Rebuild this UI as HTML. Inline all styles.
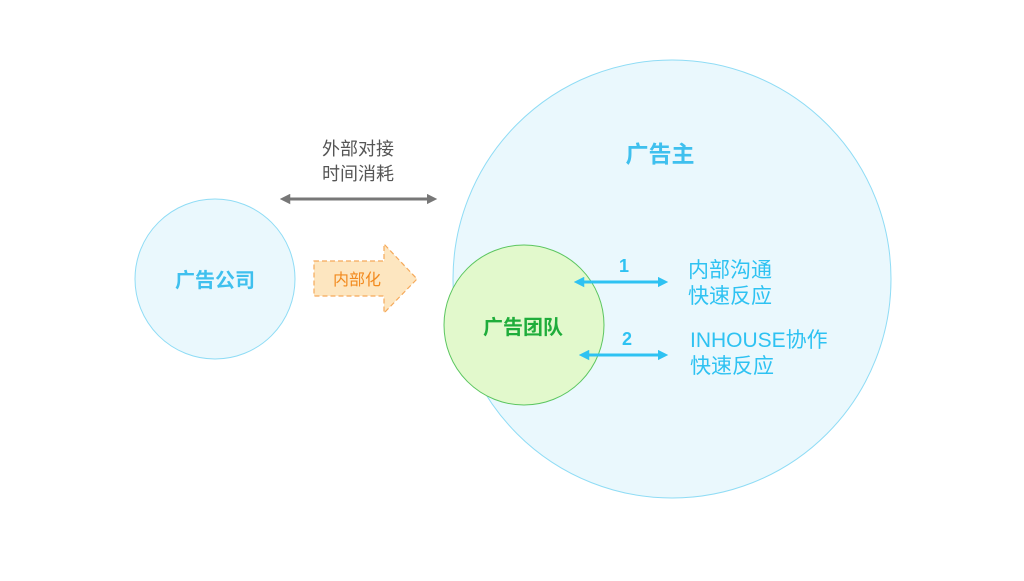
<!DOCTYPE html>
<html><head><meta charset="utf-8"><style>
body{margin:0;background:#fff}
svg text{font-family:"Liberation Sans","Noto Sans CJK SC",sans-serif}
</style></head><body>
<svg width="1024" height="576" xmlns="http://www.w3.org/2000/svg">
<defs>
<marker id="g" viewBox="0 0 10 10" refX="5" refY="5" markerWidth="3.5" markerHeight="3.5" orient="auto-start-reverse"><path d="M0 0L10 5L0 10z" fill="#777"/></marker>
<marker id="b" viewBox="0 0 10 10" refX="5" refY="5" markerWidth="3.5" markerHeight="3.5" orient="auto-start-reverse"><path d="M0 0L10 5L0 10z" fill="#2ec2f2"/></marker>
</defs>
<circle cx="672" cy="279" r="219" fill="#eaf8fd" stroke="#8fdcf5" stroke-width="1"/>
<circle cx="215" cy="279" r="80" fill="#eaf8fd" stroke="#8fdcf5" stroke-width="1"/>
<circle cx="524" cy="325" r="80" fill="#e2f9cc" stroke="#5cc660" stroke-width="1"/>
<text x="215" y="287" font-size="20" font-weight="bold" fill="#3fc0ee" text-anchor="middle">广告公司</text>
<text x="660" y="162" font-size="23" font-weight="bold" fill="#3fc0ee" text-anchor="middle">广告主</text>
<text x="523" y="334" font-size="20" font-weight="bold" fill="#1fad3b" text-anchor="middle">广告团队</text>
<text x="358" y="155" font-size="18" fill="#555" text-anchor="middle">外部对接</text>
<text x="358" y="180" font-size="18" fill="#555" text-anchor="middle">时间消耗</text>
<line x1="285" y1="199" x2="432" y2="199" stroke="#777" stroke-width="3" marker-start="url(#g)" marker-end="url(#g)"/>
<path d="M314 261H384V244L417 279L384 313V296H314Z" fill="#fde6c0" stroke="#f5a95a" stroke-width="1.2" stroke-dasharray="5,3"/>
<text x="357" y="285" font-size="16" fill="#f28a1e" text-anchor="middle">内部化</text>
<line x1="579" y1="282" x2="663" y2="282" stroke="#2ec2f2" stroke-width="3" marker-start="url(#b)" marker-end="url(#b)"/>
<line x1="584" y1="355" x2="663" y2="355" stroke="#2ec2f2" stroke-width="3" marker-start="url(#b)" marker-end="url(#b)"/>
<text x="624" y="272" font-size="18" font-weight="bold" fill="#2ec2f2" text-anchor="middle">1</text>
<text x="627" y="345" font-size="18" font-weight="bold" fill="#2ec2f2" text-anchor="middle">2</text>
<g font-size="21" fill="#2ec2f2">
<text x="688" y="277">内部沟通</text>
<text x="688" y="303">快速反应</text>
<text x="690" y="347">INHOUSE协作</text>
<text x="690" y="373">快速反应</text>
</g>
</svg>
</body></html>
